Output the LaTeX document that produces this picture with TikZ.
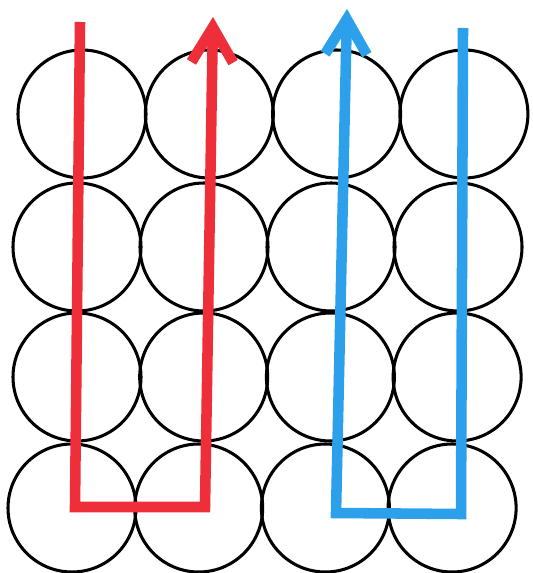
\documentclass[tikz,border=0pt]{standalone}
\usetikzlibrary{arrows.meta}
\definecolor{pathred}{HTML}{EE2E38}
\definecolor{pathblue}{HTML}{2DA0EB}
\tikzset{
  % --- circle grid ---
  disc/.style={draw=black, line width=2.6pt},
  % --- the two routes ---
  route/.style={line width=9pt, line join=miter},
  routetip/.style={-{Straight Barb[length=10.5mm, width=12.5mm]}},
}

\begin{document}
\begin{tikzpicture}[x=0.03cm, y=-0.03cm]
    \useasboundingbox (0,0) rectangle (532,573);
    % circles, one row at a time (left x, y)
    \foreach \x/\y/\dx in {82/114/127.3, 77/247/127, 77/377/126.7, 72/508/126.7}{
      \foreach \i in {0,1,2,3}{
        \draw[disc] (\x+\i*\dx, \y) circle (64);
      }
    }
    % red route corners
    \coordinate (ra) at (80,22);
    \coordinate (rb) at (75,507);
    \coordinate (rc) at (205,507);
    \coordinate (rd) at (213,17);
    % blue route corners
    \coordinate (ba) at (463,28);
    \coordinate (bb) at (461,514);
    \coordinate (bc) at (336,513);
    \coordinate (bd) at (347,9);
    \draw[route, pathred, routetip] (ra) -- (rb) -- (rc) -- (rd);
    \draw[route, pathblue, routetip] (ba) -- (bb) -- (bc) -- (bd);
  \end{tikzpicture}
\end{document}
